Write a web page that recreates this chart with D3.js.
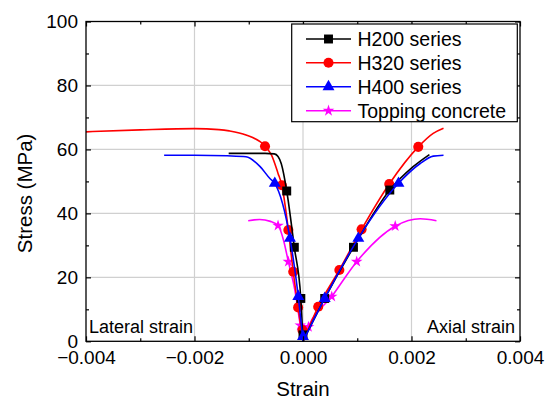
<!DOCTYPE html>
<html>
<head>
<meta charset="utf-8">
<script src="https://cdn.jsdelivr.net/npm/d3@7"></script>
<style>
  body { margin: 0; background: #fff; }
  svg { font-family: 'Liberation Sans', Arial, sans-serif; display: block; }
</style>
</head>
<body>
<main></main>
<script>
// [strain, stress (MPa)]
const h200Lateral = [[-0.00137, 58.75], [-0.0007, 58.75], [-0.00053, 58.6], [-0.00046, 57.8], [-0.0004, 55.5], [-0.0003, 47], [-0.00016, 29.4], [-0.00004, 13.4], [0, 0]];
const h200Axial = [[0, 0], [0.0004, 13.4], [0.00093, 29.4], [0.0016, 47.3], [0.00203, 54.6], [0.00233, 58.4]];
const h200Marks = [[-0.0003, 47], [-0.00016, 29.4], [-0.00004, 13.4], [0, 2], [0.0004, 13.4], [0.00093, 29.4], [0.0016, 47.3]];

const h320Lateral = [[-0.004, 65.5], [-0.003, 66.1], [-0.002, 66.5], [-0.00155, 66.2], [-0.00136, 65.8], [-0.00105, 64.5], [-0.0007, 61], [-0.00058, 58.2], [-0.00046, 52.5], [-0.00039, 48.8], [-0.00027, 34.8], [-0.00018, 21.75], [-0.00009, 10.6], [0, 0]];
const h320Axial = [[0, 0], [0.00028, 10.8], [0.00067, 22.3], [0.00108, 35], [0.00159, 49.2], [0.002125, 60.8], [0.0024, 65], [0.00259, 66.6]];
const h320Marks = [[-0.0007, 61], [-0.00039, 48.8], [-0.00027, 34.8], [-0.00018, 21.75], [-0.00009, 10.6], [-0.00001, 3.5], [0.00028, 10.8], [0.00067, 22.3], [0.00108, 35], [0.00159, 49.2], [0.002125, 60.8]];

const h400Lateral = [[-0.00256, 58.2], [-0.002, 58.2], [-0.0014, 58], [-0.00105, 57.7], [-0.00079, 54.6], [-0.00061, 50.9], [-0.00052, 49.4], [-0.00024, 32.2], [-0.000087, 14], [0, 0]];
const h400Axial = [[0, 0], [0.0004, 13.4], [0.00102, 32.2], [0.00176, 49.4], [0.00216, 55.6], [0.0024, 57.9], [0.00259, 58.2]];
const h400Marks = [[-0.00052, 49.4], [-0.00024, 32.2], [-0.000087, 14], [0, 1.5], [0.0004, 13.4], [0.00102, 32.2], [0.00176, 49.4]];

const topLateral = [[-0.00101, 37.7], [-0.0008, 38.1], [-0.0006, 37.5], [-0.00046, 36.2], [-0.00036, 31.7], [-0.00027, 24.9], [-0.00015, 16], [-0.00005, 5], [0, 0]];
const topAxial = [[0, 0], [0.0001, 4.5], [0.00053, 14], [0.00099, 24.9], [0.0017, 36], [0.00216, 38.3], [0.00246, 37.7]];
const topMarks = [[-0.00046, 36.2], [-0.00027, 24.9], [-0.00005, 5], [0.0001, 4.5], [0.00053, 14], [0.00099, 24.9], [0.0017, 36]];

const seriesNames = ['H200 series', 'H320 series', 'H400 series', 'Topping concrete'];
const seriesColors = ['#000000', '#ff0000', '#0000ff', '#ff00ff'];

const xTicks = [-0.004, -0.002, 0, 0.002, 0.004];
const xMinorTicks = [-0.003, -0.001, 0.001, 0.003];
const yTicks = [0, 20, 40, 60, 80, 100];
const yMinorTicks = [10, 30, 50, 70, 90];

const w = 545;
const h = 399;
const plotLeft = 86;
const plotRight = 520;
const plotTop = 21.5;
const plotBottom = 341.3;

const series = [
  { name: seriesNames[0], color: seriesColors[0], lat: h200Lateral, ax: h200Axial, marks: h200Marks, symbol: d3.symbolSquare, size: 80 },
  { name: seriesNames[1], color: seriesColors[1], lat: h320Lateral, ax: h320Axial, marks: h320Marks, symbol: d3.symbolCircle, size: 80 },
  { name: seriesNames[2], color: seriesColors[2], lat: h400Lateral, ax: h400Axial, marks: h400Marks, symbol: d3.symbolTriangle, size: 62 },
  { name: seriesNames[3], color: seriesColors[3], lat: topLateral, ax: topAxial, marks: topMarks, symbol: d3.symbolStar, size: 42 },
];
// draw order: topping, H320, H200, H400 (blue ends up on top)
const drawOrder = [3, 1, 0, 2];

const xScale = d3.scaleLinear().domain([-0.004, 0.004]).range([plotLeft, plotRight]);
const yScale = d3.scaleLinear().domain([0, 100]).range([plotBottom, plotTop]);

const svg = d3
  .select('main')
  .append('svg')
  .attr('width', w)
  .attr('height', h);

svg.append('rect').attr('width', w).attr('height', h).attr('fill', '#fff');

// grid
svg
  .append('g')
  .selectAll('line')
  .data([-0.002, 0, 0.002])
  .enter()
  .append('line')
  .attr('x1', d => xScale(d))
  .attr('x2', d => xScale(d))
  .attr('y1', plotTop)
  .attr('y2', plotBottom)
  .attr('stroke', '#d0d0d0')
  .attr('stroke-width', 1.2);

svg
  .append('g')
  .selectAll('line')
  .data([20, 40, 60, 80])
  .enter()
  .append('line')
  .attr('x1', plotLeft)
  .attr('x2', plotRight)
  .attr('y1', d => yScale(d))
  .attr('y2', d => yScale(d))
  .attr('stroke', '#d0d0d0')
  .attr('stroke-width', 1.2);

// curves
const line = d3
  .line()
  .x(d => xScale(d[0]))
  .y(d => yScale(d[1]))
  .curve(d3.curveMonotoneX);

const plot = svg.append('g');

drawOrder.forEach(i => {
  const s = series[i];
  const g = plot.append('g');
  [s.lat, s.ax].forEach(pts => {
    g.append('path')
      .attr('d', line(pts))
      .attr('fill', 'none')
      .attr('stroke', s.color)
      .attr('stroke-width', 1.6);
  });
  g.selectAll('path.mark')
    .data(s.marks)
    .enter()
    .append('path')
    .attr('class', 'mark')
    .attr('d', d3.symbol().type(s.symbol).size(s.size))
    .attr('transform', d => `translate(${xScale(d[0])},${yScale(d[1])})`)
    .attr('fill', s.color);
});

// axes with inward ticks
const tickFont = g => g.selectAll('text').attr('font-size', 19).attr('fill', '#000').attr('font-family', "'Liberation Sans', Arial, sans-serif");
const styleAxis = g => {
  g.select('.domain').remove();
  g.selectAll('line').attr('stroke', '#000').attr('stroke-width', 1.2);
};

svg
  .append('g')
  .attr('transform', `translate(0,${plotBottom})`)
  .call(d3.axisBottom(xScale).tickValues(xTicks).tickSize(-5).tickPadding(9).tickFormat(d3.format('.3f')))
  .call(styleAxis)
  .call(tickFont);

svg
  .append('g')
  .attr('transform', `translate(0,${plotBottom})`)
  .call(d3.axisBottom(xScale).tickValues(xMinorTicks).tickSize(-3).tickFormat(''))
  .call(styleAxis);

svg
  .append('g')
  .attr('transform', `translate(${plotLeft},0)`)
  .call(d3.axisLeft(yScale).tickValues(yTicks).tickSize(-5).tickPadding(8))
  .call(styleAxis)
  .call(tickFont);

svg
  .append('g')
  .attr('transform', `translate(${plotLeft},0)`)
  .call(d3.axisLeft(yScale).tickValues(yMinorTicks).tickSize(-3).tickFormat(''))
  .call(styleAxis);

svg
  .append('g')
  .attr('transform', `translate(0,${plotTop})`)
  .call(d3.axisTop(xScale).tickValues(xTicks).tickSize(-5).tickFormat(''))
  .call(styleAxis);

svg
  .append('g')
  .attr('transform', `translate(0,${plotTop})`)
  .call(d3.axisTop(xScale).tickValues(xMinorTicks).tickSize(-3).tickFormat(''))
  .call(styleAxis);

svg
  .append('g')
  .attr('transform', `translate(${plotRight},0)`)
  .call(d3.axisRight(yScale).tickValues(yTicks).tickSize(-5).tickFormat(''))
  .call(styleAxis);

svg
  .append('g')
  .attr('transform', `translate(${plotRight},0)`)
  .call(d3.axisRight(yScale).tickValues(yMinorTicks).tickSize(-3).tickFormat(''))
  .call(styleAxis);

// frame
svg
  .append('rect')
  .attr('x', plotLeft)
  .attr('y', plotTop)
  .attr('width', plotRight - plotLeft)
  .attr('height', plotBottom - plotTop)
  .attr('fill', 'none')
  .attr('stroke', '#000')
  .attr('stroke-width', 1.3);

// axis titles
svg
  .append('text')
  .attr('x', (plotLeft + plotRight) / 2)
  .attr('y', 396)
  .attr('text-anchor', 'middle')
  .attr('font-size', 20.5)
  .text('Strain');

svg
  .append('text')
  .attr('transform', `translate(32,${(plotTop + plotBottom) / 2 + 12}) rotate(-90)`)
  .attr('text-anchor', 'middle')
  .attr('font-size', 20.5)
  .text('Stress (MPa)');

// region labels
svg
  .append('text')
  .attr('x', 89)
  .attr('y', 333)
  .attr('font-size', 18)
  .text('Lateral strain');

svg
  .append('text')
  .attr('x', 515)
  .attr('y', 333)
  .attr('text-anchor', 'end')
  .attr('font-size', 18)
  .text('Axial strain');

// legend
const legend = svg.append('g');

legend
  .append('rect')
  .attr('x', 291.7)
  .attr('y', 24)
  .attr('width', 225.6)
  .attr('height', 97.7)
  .attr('fill', '#fff')
  .attr('stroke', '#000')
  .attr('stroke-width', 1.2);

const rowY = [39, 62.7, 86.7, 110.7];

const rows = legend
  .selectAll('g.row')
  .data(series)
  .enter()
  .append('g')
  .attr('class', 'row')
  .attr('transform', (d, i) => `translate(0,${rowY[i]})`);

rows
  .append('line')
  .attr('x1', 306)
  .attr('x2', 351)
  .attr('stroke', d => d.color)
  .attr('stroke-width', 1.6);

rows
  .append('path')
  .attr('d', d => d3.symbol().type(d.symbol).size(d.size)())
  .attr('transform', 'translate(328.5,0)')
  .attr('fill', d => d.color);

rows
  .append('text')
  .attr('x', 357.5)
  .attr('y', 7)
  .attr('font-size', 19.5)
  .text(d => d.name);
</script>
</body>
</html>
